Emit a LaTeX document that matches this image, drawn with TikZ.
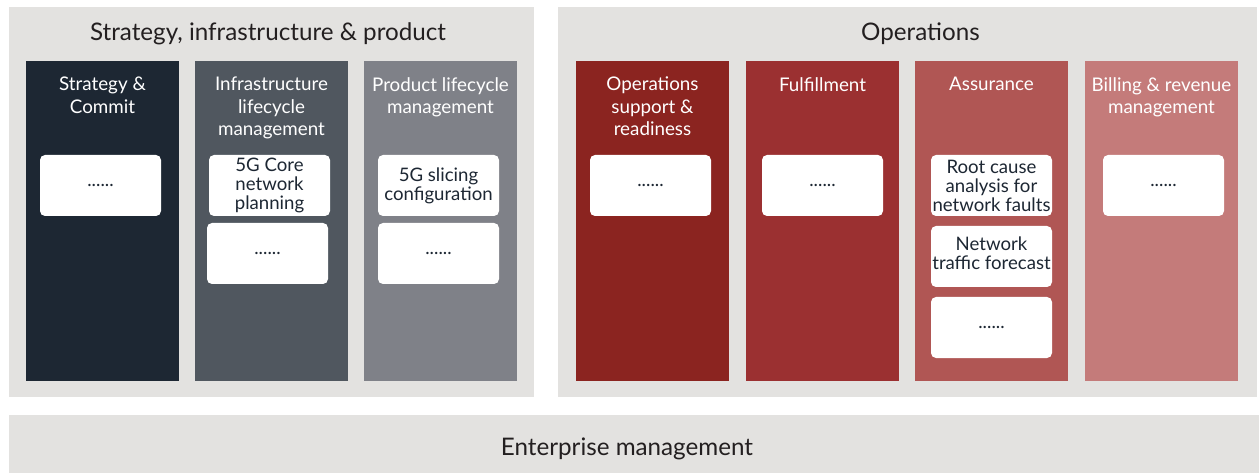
\documentclass[tikz,border=0pt]{standalone}
\usepackage{fontspec}
\setmainfont{Lato}
\definecolor{panelgray}{HTML}{E3E2E0}
\definecolor{titletext}{HTML}{231F20}
\definecolor{boxtext}{HTML}{1D2733}
\definecolor{cstrat}{HTML}{1D2733}
\definecolor{cinfra}{HTML}{50575F}
\definecolor{cprod}{HTML}{7F8188}
\definecolor{cops}{HTML}{8B2420}
\definecolor{cfulf}{HTML}{9B3031}
\definecolor{cassur}{HTML}{B05654}
\definecolor{cbill}{HTML}{C47B7A}
\begin{document}
\begin{tikzpicture}[x=1pt,y=-1pt,
  panel/.style={fill=panelgray, draw=none, inner sep=0, outer sep=0, anchor=north west},
  column/.style={fill=#1, draw=none, inner sep=0, outer sep=0, anchor=north west, minimum width=153pt, minimum height=320pt},
  colhead/.style={text=white, anchor=north, align=center, inner sep=0, font=\fontsize{18.8}{22.5}\selectfont},
  card/.style={fill=white, draw=none, rounded corners=5pt, inner sep=0, outer sep=0, anchor=north west, minimum width=121pt, minimum height=61pt, align=center, text=boxtext, font=\fontsize{18.6}{19}\selectfont},
  bigtitle/.style={text=titletext, inner sep=0, font=\fontsize{24.2}{28}\selectfont}
]
\useasboundingbox (0,0) rectangle (1259,473);
% panels
\node[panel, minimum width=525pt, minimum height=390pt] (psip) at (9,7) {};
\node[panel, minimum width=699pt, minimum height=390pt] (pops) at (558,7) {};
\node[panel, minimum width=1250pt, minimum height=58pt] (pent) at (9,415) {};
% titles
\node[bigtitle] (tsip) at (268,34) {Strategy, infrastructure \& product};
\node[bigtitle] (tops) at (920.5,34) {Operations};
\node[bigtitle] (tent) at (627,448.5) {Enterprise management};
% columns
\node[column=cstrat] (c1) at (26,61) {};
\node[column=cinfra] (c2) at (195,61) {};
\node[column=cprod] (c3) at (364,61) {};
\node[column=cops] (c4) at (576,61) {};
\node[column=cfulf] (c5) at (746,61) {};
\node[column=cassur] (c6) at (915,61) {};
\node[column=cbill] (c7) at (1085,61) {};
% column headings
\node[colhead] (h1) at (102.5,77) {Strategy \&\\Commit};
\node[colhead] (h2) at (271.5,77) {Infrastructure\\lifecycle\\management};
\node[colhead] (h3) at (440.5,77) {Product lifecycle\\management};
\node[colhead] (h4) at (652.5,77) {Operations\\support \&\\readiness};
\node[colhead] (h5) at (822.5,77) {Fulfillment};
\node[colhead] (h6) at (991.5,77) {Assurance};
\node[colhead] (h7) at (1161.5,77) {Billing \& revenue\\management};
% cards
\node[card] (b1) at (40,155) {......};
\node[card] (b2a) at (209,155) {5G Core\\network\\planning};
\node[card] (b2b) at (207,223) {......};
\node[card] (b3a) at (378,155) {5G slicing\\configuration};
\node[card] (b3b) at (378,223) {......};
\node[card] (b4) at (590,155) {......};
\node[card] (b5) at (762,155) {......};
\node[card] (b6a) at (931,155) {Root cause\\analysis for\\network faults};
\node[card, text depth=6pt] (b6b) at (931,226) {Network\\traffic forecast};
\node[card] (b6c) at (931,297) {......};
\node[card] (b7) at (1103,155) {......};
\end{tikzpicture}
\end{document}
